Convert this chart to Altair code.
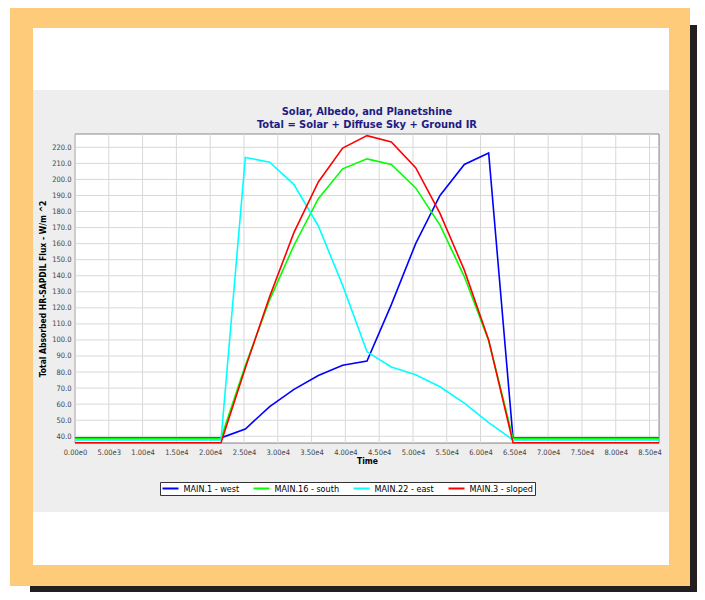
import altair as alt
import pandas as pd

# ---- data ----
time_s = [0, 3600, 7200, 10800, 14400, 18000, 21600, 25200, 28800, 32400, 36000,
          39600, 43200, 46800, 50400, 54000, 57600, 61200, 64800, 68400, 72000,
          75600, 79200, 82800, 86400]

west = [39.0, 39.0, 39.0, 39.0, 39.0, 39.0, 39.0, 44.5, 58.5, 69.2, 77.8, 84.2, 86.9,
        122.0, 160.0, 190.0, 209.3, 216.5, 39.0, 39.0, 39.0, 39.0, 39.0, 39.0, 39.0]
south = [38.7, 38.7, 38.7, 38.7, 38.7, 38.7, 38.7, 84.0, 125.0, 159.0, 188.0, 206.6, 212.8,
         209.3, 194.7, 171.5, 139.5, 99.5, 38.7, 38.7, 38.7, 38.7, 38.7, 38.7, 38.7]
east = [37.7, 37.7, 37.7, 37.7, 37.7, 37.7, 37.7, 213.7, 210.7, 196.8, 171.0, 134.0, 92.6,
        83.2, 78.3, 70.8, 60.6, 48.5, 37.7, 37.7, 37.7, 37.7, 37.7, 37.7, 37.7]
sloped = [36.0, 36.0, 36.0, 36.0, 36.0, 36.0, 36.0, 82.5, 127.0, 167.0, 198.4, 219.5, 227.3,
          223.3, 207.3, 178.8, 143.5, 100.0, 36.0, 36.0, 36.0, 36.0, 36.0, 36.0, 36.0]

series_names = ["MAIN.1 - west", "MAIN.16 - south", "MAIN.22 - east", "MAIN.3 - sloped"]
series_colors = ["#0000FF", "#00FF00", "#00FFFF", "#FF0000"]

x_ticks = [0, 5000, 10000, 15000, 20000, 25000, 30000, 35000, 40000, 45000, 50000,
           55000, 60000, 65000, 70000, 75000, 80000, 85000]
y_ticks = [40, 50, 60, 70, 80, 90, 100, 110, 120, 130, 140, 150, 160, 170, 180, 190,
           200, 210, 220]

title_lines = ["Solar, Albedo, and Planetshine", "Total = Solar + Diffuse Sky + Ground IR"]
x_title = "Time"
y_title = "Total Absorbed HR-SAPDIL Flux - W/m ^2"

# ---- build table ----
rows = []
for name, vals in zip(series_names, [west, south, east, sloped]):
    for t, v in zip(time_s, vals):
        rows.append({"time": t, "flux": v, "series": name})
df = pd.DataFrame(rows)

F = "DejaVu Sans Condensed, Liberation Sans, sans-serif"
W, H = 584, 309
ORANGE = "#FECB7B"
BLACK = "#231F20"
WHITE = "#FFFFFF"
GRID = "#D8D8D8"

xs = alt.Scale(domain=[0, 86400], nice=False, zero=False)
ys = alt.Scale(domain=[35.8, 228.3], nice=False, zero=False)

x_axis = alt.Axis(
    values=x_ticks,
    labelExpr="replace(format(datum.value, '.2e'), '+', '')",
    title=x_title,
    grid=False, domain=False, ticks=False,
    labelPadding=5, titlePadding=1,
    labelFont=F, labelFontSize=7.5, labelColor="#444444",
    titleFont=F, titleFontSize=8.5, titleFontWeight="bold", titleColor="#000000",
    labelFlush=False, labelOverlap=False,
)
y_axis = alt.Axis(
    values=y_ticks,
    format=".1f",
    title=y_title,
    grid=False, domain=False, ticks=False,
    labelPadding=4, titlePadding=4,
    labelFont=F, labelFontSize=7.5, labelColor="#444444",
    titleFont=F, titleFontSize=8.5, titleFontWeight="bold", titleColor="#000000",
    labelFlush=False, labelOverlap=False,
)


def deco(x, x2, y, y2, color, **kw):
    return alt.Chart(alt.Data(values=[{"k": 0}])).mark_rect(color=color, **kw).encode(
        x=alt.value(x), x2=alt.value(x2), y=alt.value(y), y2=alt.value(y2)
    )


# decorative frame (only outside the grey chart panel)
frame = [
    # top band
    deco(-67, 622, -126, -44, WHITE),
    deco(-45, 622, -109, -44, BLACK),
    deco(-65, 615, -126, -44, ORANGE),
    deco(-42, 594, -106, -44, WHITE),
    # bottom band
    deco(-67, 622, 378, 458, WHITE),
    deco(-45, 622, 378, 458, BLACK),
    deco(-65, 615, 378, 452, ORANGE),
    deco(-42, 594, 378, 431, WHITE),
    # left band
    deco(-67, -65, -44, 378, WHITE),
    deco(-65, -42, -44, 378, ORANGE),
    # right band
    deco(594, 615, -44, 378, ORANGE),
    deco(615, 622, -44, 378, BLACK),
]

# white plot area with grey outline
plot_bg = deco(0, W, 0, H, WHITE, stroke="#8A8A8A", strokeWidth=1)

grid_x = alt.Chart(pd.DataFrame({"time": x_ticks})).mark_rule(
    color=GRID, strokeWidth=1
).encode(x=alt.X("time:Q", scale=xs, axis=x_axis))

grid_y = alt.Chart(pd.DataFrame({"flux": y_ticks})).mark_rule(
    color=GRID, strokeWidth=1
).encode(y=alt.Y("flux:Q", scale=ys, axis=y_axis))

lines = alt.Chart(df).mark_line(strokeWidth=1.6).encode(
    x=alt.X("time:Q", scale=xs, axis=x_axis),
    y=alt.Y("flux:Q", scale=ys, axis=y_axis),
    color=alt.Color(
        "series:N",
        scale=alt.Scale(domain=series_names, range=series_colors),
        legend=alt.Legend(
            title=None,
            orient="none",
            legendX=85,
            legendY=348,
            direction="horizontal",
            symbolType="stroke",
            symbolSize=256,
            symbolStrokeWidth=2,
            labelFont=F,
            labelFontSize=9,
            labelColor="#000000",
            labelOffset=4,
            columnPadding=13,
            clipHeight=10,
            padding=1.5,
            fillColor="#FFFFFF",
            strokeColor="#333333",
        ),
    ),
)

chart = alt.layer(*frame, plot_bg, grid_x, grid_y, lines).properties(
    width=W,
    height=H,
    title=alt.TitleParams(
        text=title_lines,
        anchor="middle",
        font=F,
        fontSize=11,
        fontWeight="bold",
        color="#1C1C84",
        lineHeight=13,
        offset=-122,
    ),
    padding={"left": 67, "top": 126, "right": 38, "bottom": 149},
    autosize=alt.AutoSizeParams(type="none"),
).configure_view(
    stroke="transparent"
).configure(background="#EEEEEE")

chart.save("out.html", embed_options={"renderer": "svg", "actions": False})
